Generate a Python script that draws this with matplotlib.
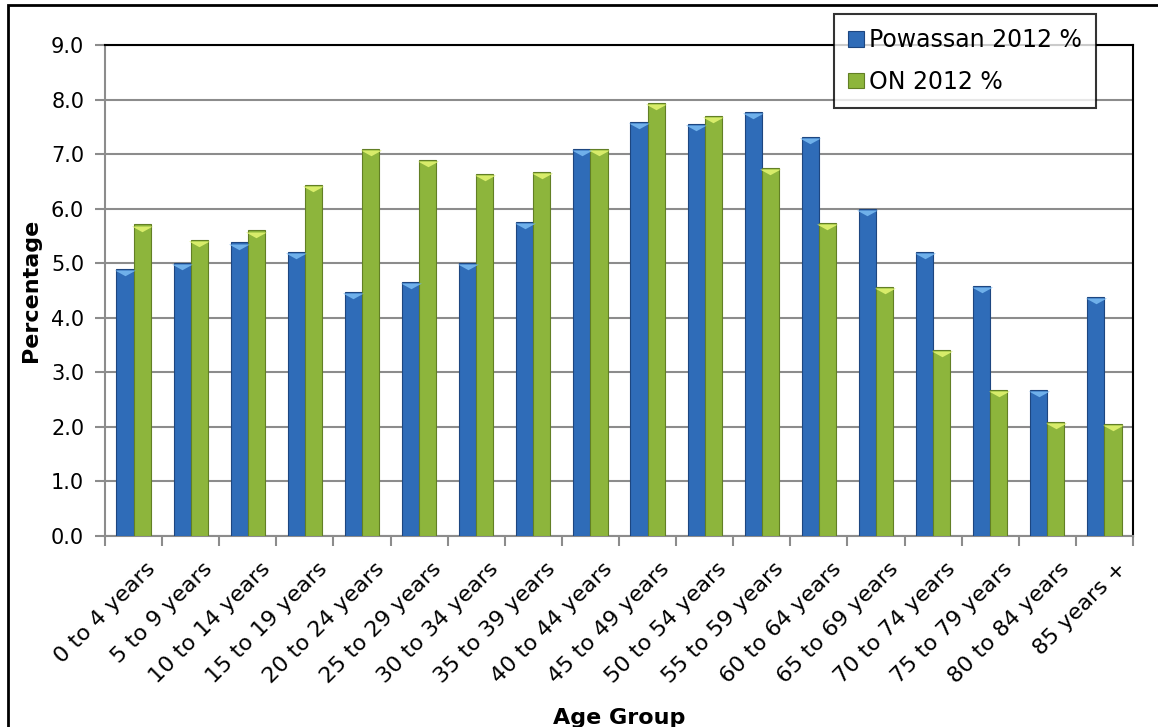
import matplotlib
matplotlib.use('Agg')
import matplotlib.pyplot as plt
import matplotlib.transforms as mtransforms
import numpy as np
from matplotlib.patches import Rectangle

# Data
age_groups = ['0 to 4 years', '5 to 9 years', '10 to 14 years', '15 to 19 years',
              '20 to 24 years', '25 to 29 years', '30 to 34 years', '35 to 39 years',
              '40 to 44 years', '45 to 49 years', '50 to 54 years', '55 to 59 years',
              '60 to 64 years', '65 to 69 years', '70 to 74 years', '75 to 79 years',
              '80 to 84 years', '85 years +']
powassan = [4.9, 5.0, 5.38, 5.2, 4.48, 4.66, 5.0, 5.75, 7.09, 7.59, 7.55, 7.77,
            7.32, 5.99, 5.2, 4.58, 2.68, 4.39]
ontario = [5.71, 5.42, 5.6, 6.43, 7.09, 6.89, 6.64, 6.67, 7.09, 7.93, 7.7, 6.74,
           5.73, 4.57, 3.41, 2.68, 2.09, 2.05]
series_names = ['Powassan 2012 %', 'ON 2012 %']
yticks = np.arange(0, 9.01, 1.0)

blue = '#2f6cb8'
blue_edge = '#1d4680'
blue_cap = '#6fb0ea'
green = '#8db53c'
green_edge = '#627f25'
green_cap = '#d8ec6a'

fig = plt.figure(figsize=(11.58, 7.27), dpi=100)
ax = fig.add_axes([105/1158, 1 - 536/727, (1133 - 105)/1158, (536 - 45)/727])

x = np.arange(len(age_groups))
w = 0.3
ax.bar(x - w/2, powassan, w, color=blue, edgecolor=blue_edge, linewidth=0.8,
       label=series_names[0], zorder=3)
ax.bar(x + w/2, ontario, w, color=green, edgecolor=green_edge, linewidth=0.8,
       label=series_names[1], zorder=3)
# flat bevel caps on top of the bars
cap = [(-1, 0), (1, 0), (0, -0.55), (-1, 0)]
ax.plot(x - w/2, np.array(powassan) - 0.02, marker=cap, ls='none', color=blue_cap,
        ms=15, mew=0, zorder=4)
ax.plot(x + w/2, np.array(ontario) - 0.02, marker=cap, ls='none', color=green_cap,
        ms=15, mew=0, zorder=4)

ax.set_xlim(-0.5, len(age_groups) - 0.5)
ax.set_ylim(0, 9)
ax.set_yticks(yticks)
ax.set_yticklabels(['%.1f' % v for v in yticks], fontsize=15)
ax.yaxis.grid(True, color='#8c8c8c', linewidth=1.5, zorder=0)
ax.set_axisbelow(True)

# ticks at group boundaries, labels at group centres
ax.set_xticks(np.arange(-0.5, len(age_groups), 1.0))
ax.set_xticklabels([])
ax.set_xticks(x, minor=True)
ax.set_xticklabels(age_groups, minor=True, rotation=45, ha='right', va='top',
                   rotation_mode='anchor', fontsize=16)
ax.tick_params(axis='x', which='minor', length=0, pad=16)
ax.tick_params(axis='x', which='major', length=7, color='#8c8c8c', width=1.5)
ax.tick_params(axis='y', length=7, color='#8c8c8c', width=1.5, pad=8)
shift = mtransforms.ScaledTranslation(12/100, 0, fig.dpi_scale_trans)
for lab in ax.get_xticklabels(minor=True):
    lab.set_transform(lab.get_transform() + shift)

for s in ['left', 'bottom']:
    ax.spines[s].set_color('#8c8c8c')
    ax.spines[s].set_linewidth(1.5)
for s in ['top', 'right']:
    ax.spines[s].set_color('black')
    ax.spines[s].set_linewidth(1.5)

ax.set_ylabel('Percentage', fontsize=16, fontweight='bold')
ax.yaxis.set_label_coords(-0.062, 0.5)
ax.set_xlabel('Age Group', fontsize=16, fontweight='bold')
ax.xaxis.set_label_coords(0.5, -0.35)

leg = ax.legend(loc='upper left', bbox_to_anchor=((834 - 105)/1028, 1 + 31/491),
                fontsize=17, frameon=True, fancybox=False, edgecolor='black',
                handlelength=0.65, handleheight=0.65, handletextpad=0.25,
                labelspacing=0.75, borderpad=0.6, borderaxespad=0)
leg.get_frame().set_linewidth(1.5)
leg.set_zorder(10)

# outer chart border (runs off the right and bottom of the picture)
fig.patches.append(Rectangle((8/1158, -0.05), 1.2, 1.05 - 5/727,
                             transform=fig.transFigure, fill=False,
                             edgecolor='black', linewidth=2))

fig.savefig('out.png', dpi=100)
